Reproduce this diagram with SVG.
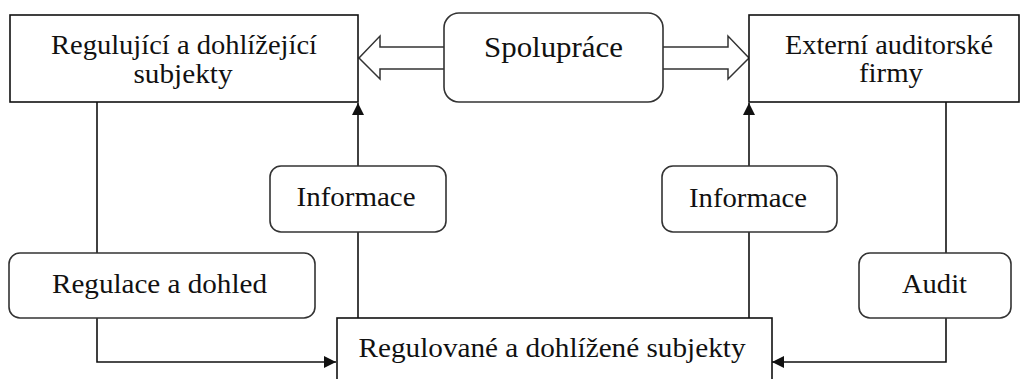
<svg xmlns="http://www.w3.org/2000/svg" width="1021" height="379" viewBox="0 0 1021 379">
<style>
.box{fill:#fff;stroke:#111;stroke-width:1.6}
.rbox{fill:#fff;stroke:#333;stroke-width:1.6}
.t{font-family:"Liberation Serif","Times New Roman",serif;font-size:28px;fill:#111;text-anchor:middle}
.ln{fill:none;stroke:#111;stroke-width:1.6}
.hol{fill:#fff;stroke:#333;stroke-width:1.5;stroke-linejoin:miter}
</style>
<defs>
<marker id="ah" viewBox="0 0 12 12" refX="12" refY="6" markerWidth="12" markerHeight="12" markerUnits="userSpaceOnUse" orient="auto">
<path d="M0,0 L12,6 L0,12 Z" fill="#111"/>
</marker>
</defs>
<rect width="1021" height="379" fill="#fff"/>
<g id="connectors">
<path class="ln" d="M97,102 V253"/>
<path class="ln" d="M97,318 V362 H336" marker-end="url(#ah)"/>
<path class="ln" d="M358,318 V232"/>
<path class="ln" d="M358,166 V103" marker-end="url(#ah)"/>
<path class="ln" d="M749,318 V232"/>
<path class="ln" d="M749,166 V103" marker-end="url(#ah)"/>
<path class="ln" d="M946,102 V253"/>
<path class="ln" d="M946,318 V362 H772" marker-end="url(#ah)"/>
<path class="hol" d="M445,47 H380 V36 L359,58 L380,79 V69 H445"/>
<path class="hol" d="M663,47 H728 V36 L749,58 L728,79 V69 H663"/>
</g>
<g id="regulujici">
<rect class="box" x="10" y="15" width="348" height="87"/>
<text class="t" x="184" y="54" textLength="266" lengthAdjust="spacingAndGlyphs">Regulující a dohlížející</text>
<text class="t" x="183" y="83" textLength="99" lengthAdjust="spacingAndGlyphs">subjekty</text>
</g>
<g id="spoluprace">
<rect class="rbox" x="444" y="13" width="219" height="89" rx="15" ry="15"/>
<text class="t" x="553.5" y="57" style="font-size:30px" textLength="139" lengthAdjust="spacingAndGlyphs">Spolupráce</text>
</g>
<g id="externi">
<rect class="box" x="749" y="15" width="270" height="87"/>
<text class="t" x="889" y="54" textLength="208" lengthAdjust="spacingAndGlyphs">Externí auditorské</text>
<text class="t" x="891" y="82" textLength="64" lengthAdjust="spacingAndGlyphs">firmy</text>
</g>
<g id="informace-left">
<rect class="rbox" x="270" y="166" width="176" height="66" rx="11" ry="11"/>
<text class="t" x="356" y="206" textLength="119" lengthAdjust="spacingAndGlyphs">Informace</text>
</g>
<g id="informace-right">
<rect class="rbox" x="662" y="166" width="175" height="66" rx="11" ry="11"/>
<text class="t" x="748" y="207" textLength="118" lengthAdjust="spacingAndGlyphs">Informace</text>
</g>
<g id="regulace">
<rect class="rbox" x="9" y="253" width="306" height="65" rx="11" ry="11"/>
<text class="t" x="159.5" y="293" textLength="215" lengthAdjust="spacingAndGlyphs">Regulace a dohled</text>
</g>
<g id="audit">
<rect class="rbox" x="859" y="253" width="152" height="65" rx="11" ry="11"/>
<text class="t" x="934.5" y="293" textLength="65" lengthAdjust="spacingAndGlyphs">Audit</text>
</g>
<g id="regulovane">
<rect class="box" x="337" y="318" width="435" height="70"/>
<text class="t" x="552" y="357" textLength="387" lengthAdjust="spacingAndGlyphs">Regulované a dohlížené subjekty</text>
</g>
</svg>
